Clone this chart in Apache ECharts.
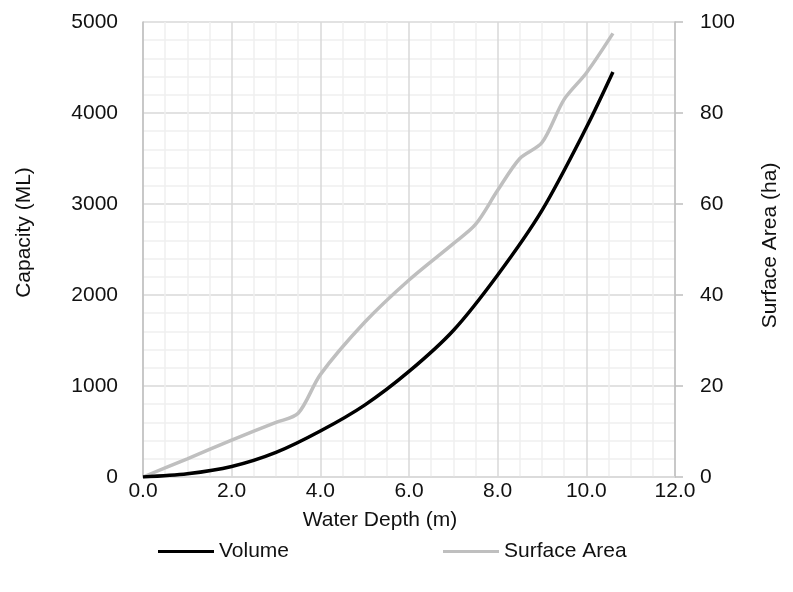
<!DOCTYPE html>
<html>
<head>
<meta charset="utf-8">
<title>Storage Curve</title>
<script src="https://cdn.jsdelivr.net/npm/echarts@6/dist/echarts.min.js"></script>
<style>
  html, body { margin: 0; padding: 0; background: #fff; }
  #chart { width: 793px; height: 592px; }
</style>
</head>
<body>
<div id="chart"></div>
<script>
// Storage curve: capacity and surface area against water depth
const volumeDepth = [0, 1, 2, 3, 4, 5, 6, 7, 8, 9, 10, 10.6];
const volumeML   = [0, 35, 115, 270, 505, 790, 1160, 1610, 2220, 2930, 3840, 4450];

const areaDepth = [0, 1, 2, 3, 3.5, 4, 5, 6, 7, 7.5, 8, 8.5, 9, 9.5, 10, 10.6];
const areaHa    = [0, 4, 8.1, 12, 14, 22.5, 34, 43.3, 51.3, 55.5, 63, 70, 73.5, 83, 88.8, 97.5];

const seriesNames = ['Volume', 'Surface Area'];
const xTitle = 'Water Depth (m)';
const yLeftTitle = 'Capacity (ML)';
const yRightTitle = 'Surface Area (ha)';

const pairs = (xs, ys) => xs.map((x, i) => [x, ys[i]]);

const FONT = '"Liberation Sans", Arial, sans-serif';
const FS = 21;
const TXT = '#111';
const majorGrid = '#d9d9d9';
const minorGrid = '#f0f0f0';
const axisGrey = '#bfbfbf';

const chart = echarts.init(document.getElementById('chart'), null, { renderer: 'canvas' });

chart.setOption({
  animation: false,
  backgroundColor: '#fff',
  textStyle: { fontFamily: FONT, color: TXT },
  grid: { left: 143, right: 118, top: 22, bottom: 115 },
  legend: [
    {
      data: [seriesNames[0]],
      left: 158, top: 541, padding: 0,
      icon: 'rect', itemWidth: 56, itemHeight: 3,
      textStyle: { fontFamily: FONT, fontSize: FS, color: TXT }
    },
    {
      data: [seriesNames[1]],
      left: 443, top: 541, padding: 0,
      icon: 'rect', itemWidth: 56, itemHeight: 3,
      textStyle: { fontFamily: FONT, fontSize: FS, color: TXT }
    }
  ],
  xAxis: {
    type: 'value',
    min: 0, max: 12, interval: 2,
    name: xTitle,
    nameLocation: 'middle',
    nameGap: 33,
    nameTextStyle: { fontFamily: FONT, fontSize: FS, color: TXT, padding: [0, 58, 0, 0] },
    axisLine: { show: true, onZero: false, lineStyle: { color: majorGrid, width: 1.5 } },
    axisTick: { show: false },
    axisLabel: { margin: 4, fontFamily: FONT, fontSize: FS, color: TXT, formatter: v => v.toFixed(1) },
    splitLine: { show: true, lineStyle: { color: majorGrid, width: 1.5 } },
    minorTick: { show: false, splitNumber: 4 },
    minorSplitLine: { show: true, lineStyle: { color: minorGrid, width: 1.5 } }
  },
  yAxis: [
    {
      type: 'value',
      position: 'left',
      min: 0, max: 5000, interval: 1000,
      name: yLeftTitle,
      nameLocation: 'middle',
      nameGap: 108,
      nameTextStyle: { fontFamily: FONT, fontSize: FS, color: TXT, padding: [0, 0, 0, 34] },
      axisLine: { show: true, lineStyle: { color: axisGrey, width: 1.5 } },
      axisTick: { show: false },
      axisLabel: { margin: 25, fontFamily: FONT, fontSize: FS, color: TXT, formatter: v => String(v) },
      splitLine: { show: true, lineStyle: { color: majorGrid, width: 1.5 } },
      minorTick: { show: false, splitNumber: 5 },
      minorSplitLine: { show: true, lineStyle: { color: minorGrid, width: 1.5 } }
    },
    {
      type: 'value',
      position: 'right',
      min: 0, max: 100, interval: 20,
      name: yRightTitle,
      nameLocation: 'middle',
      nameGap: 85,
      nameTextStyle: { fontFamily: FONT, fontSize: FS, color: TXT, padding: [0, 0, 0, 8] },
      axisLine: { show: true, lineStyle: { color: axisGrey, width: 1.5 } },
      axisTick: { show: true, inside: false, length: 8, lineStyle: { color: axisGrey, width: 1.5 } },
      axisLabel: { margin: 25, fontFamily: FONT, fontSize: FS, color: TXT },
      splitLine: { show: false }
    }
  ],
  series: [
    {
      name: seriesNames[0],
      type: 'line',
      yAxisIndex: 0,
      data: pairs(volumeDepth, volumeML),
      smooth: 0.3,
      showSymbol: false,
      symbol: 'none',
      color: '#000',
      lineStyle: { color: '#000', width: 3.5 },
      z: 3
    },
    {
      name: seriesNames[1],
      type: 'line',
      yAxisIndex: 1,
      data: pairs(areaDepth, areaHa),
      smooth: 0.3,
      showSymbol: false,
      symbol: 'none',
      color: '#bfbfbf',
      lineStyle: { color: '#bfbfbf', width: 3.5 },
      z: 2
    }
  ]
});
</script>
</body>
</html>
